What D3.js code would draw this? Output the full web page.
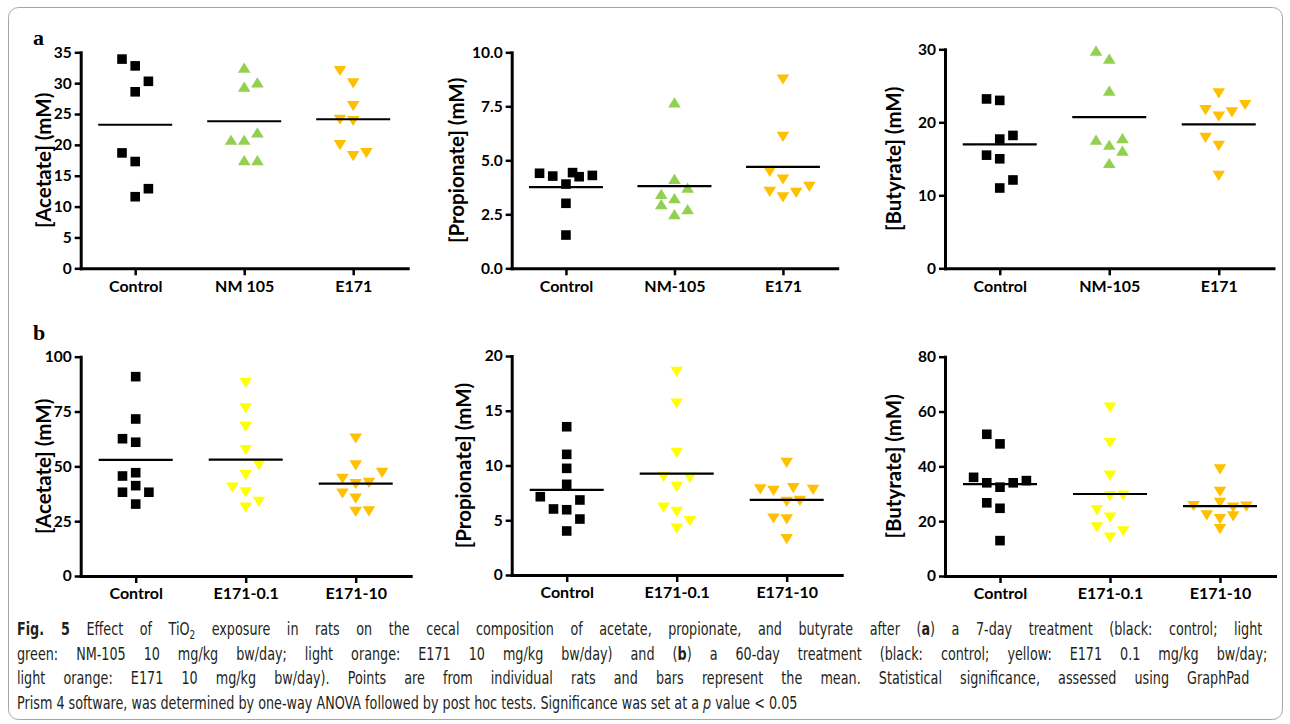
<!DOCTYPE html>
<html>
<head>
<meta charset="utf-8">
<script src="https://d3js.org/d3.v7.min.js"></script>
<style>
  body { margin: 0; background: #fff; }
  svg text { font-family: Lato, "Open Sans", sans-serif; }
  .axis .domain { stroke: #000; stroke-width: 3; stroke-linecap: square; }
  .axis .tick line { stroke: #000; stroke-width: 2.5; }
  .axis .tick text { font-family: Lato, "Open Sans", sans-serif; font-weight: 700; fill: #000; }
  .caption text { font-family: "Liberation Sans Narrow", "DejaVu Sans Condensed", "Roboto", sans-serif; }
</style>
</head>
<body>
<svg id="fig" width="1290" height="724"></svg>
<script>
// categories
var groups7a = ["Control", "NM 105", "E171"];
var groups7 = ["Control", "NM-105", "E171"];
var groups60 = ["Control", "E171-0.1", "E171-10"];

// 7-day treatment (mM), one inner array per group; *Col = side-by-side column of each point
var acetate7 = [[33.9, 32.8, 30.3, 28.6, 18.7, 17.3, 12.9, 11.6],
                [32.5, 29.4, 30.1, 22.0, 20.8, 20.8, 17.5, 17.5],
                [32.0, 30.0, 26.3, 24.1, 23.9, 20.0, 18.2, 18.7]];
var acetate7Col = [[-1, 0, 1, 0, -1, 0, 1, 0], [0, 0, 1, 1, -1, 0, 0, 1], [-1, 0, 0, -1, 0, -1, 0, 1]];

var propionate7 = [[4.40, 4.27, 4.43, 4.24, 4.30, 3.90, 3.01, 1.54],
                   [7.67, 4.13, 3.73, 3.44, 3.24, 2.96, 2.73, 2.50],
                   [8.75, 6.09, 4.47, 4.12, 3.55, 3.50, 3.29, 3.78]];
var propionate7Col = [[-2, -1, 0.5, 1, 2, 0, 0, 0], [0, 0, 1, -1, 0, -1, 1, 0], [0, 0, -1, 0, -1, 1, 0, 2]];

var butyrate7 = [[23.2, 23.0, 17.7, 18.2, 15.5, 15.0, 12.1, 11.0],
                 [29.8, 28.7, 24.3, 17.6, 17.8, 16.9, 16.1, 14.4],
                 [24.0, 21.7, 20.8, 21.4, 22.4, 17.9, 16.8, 12.7]];
var butyrate7Col = [[-1, 0, 0, 1, -1, 0, 1, 0], [-1, 0, 0, -1, 1, 0, 1, 0], [0, -1, 0, 1, 2, -1, 0, 0]];

// 60-day treatment (mM)
var acetate60 = [[90.9, 71.6, 62.6, 61.0, 45.6, 47.1, 41.2, 38.2, 38.2, 32.8],
                 [88.1, 76.5, 68.1, 57.5, 50.6, 46.1, 40.4, 38.2, 33.9, 31.3],
                 [62.8, 50.5, 47.1, 44.4, 42.0, 42.6, 37.7, 35.4, 29.3, 29.6]];
var acetate60Col = [[0, 0, -1, 0, -1, 0, 0, -1, 1, 0], [0, 0, 0, 0, 1, 0, -1, 0, 1, 0], [0, 0, 2, -1, 0, 1, -1, 0, 0, 1]];

var propionate60 = [[13.54, 11.02, 9.74, 8.28, 7.15, 6.85, 6.03, 5.96, 5.11, 4.02],
                    [18.57, 15.68, 11.17, 8.98, 8.89, 8.06, 6.18, 5.78, 4.93, 4.26],
                    [10.26, 7.83, 7.70, 7.95, 7.80, 6.70, 6.79, 5.18, 5.09, 3.29]];
var propionate60Col = [[0, 0, 0, 0, -2, 1, -1, 0, 1, 0], [0, 0, 0, -1, 1, 0, -1, 0, 1, 0], [0, -2, -1, 0.5, 2, 0, 1, -1, 0, 0]];

var butyrate60 = [[51.7, 48.2, 36.0, 34.0, 32.4, 34.0, 34.8, 26.7, 24.7, 12.9],
                  [61.5, 48.6, 36.7, 29.2, 29.4, 24.1, 21.4, 17.8, 16.4, 14.1],
                  [39.0, 30.8, 26.8, 25.6, 25.0, 25.4, 22.2, 21.8, 20.8, 17.2]];
var butyrate60Col = [[-1, 0, -2, -1, 0, 1, 2, -1, 0, 0], [0, 0, 0, 0, 1, -1, 0, -1, 1, 0], [0, 0, 0, -2, 1, 2, -1, 1, 0, 0]];

// tick labels
var acetate7Ticks = [0, 5, 10, 15, 20, 25, 30, 35];
var propionate7Ticks = [0, 2.5, 5, 7.5, 10];
var butyrate7Ticks = [0, 10, 20, 30];
var acetate60Ticks = [0, 25, 50, 75, 100];
var propionate60Ticks = [0, 5, 10, 15, 20];
var butyrate60Ticks = [0, 20, 40, 60, 80];

var colors7 = ["#000000", "#92d050", "#ffc000"];
var colors60 = ["#000000", "#ffff00", "#ffc000"];
var shapes = ["square", "up", "down"];
var shapes60 = ["square", "down", "down"];

var svg = d3.select("#fig");

svg.append("rect")
  .attr("x", 8.5).attr("y", 7.5).attr("width", 1274).attr("height", 712)
  .attr("rx", 10).attr("fill", "none").attr("stroke", "#a6a6a6").attr("stroke-width", 1);

var panels = [
  { left: 80.7, top: 52.3, bottom: 268.3, step: 109, groups: groups7a, values: acetate7, cols: acetate7Col,
    ticks: acetate7Ticks, fmt: d3.format("d"), title: "[Acetate] (mM)", titleOff: 37, colors: colors7, shapes: shapes },
  { left: 511.7, top: 52.3, bottom: 268.3, step: 108.5, groups: groups7, values: propionate7, cols: propionate7Col,
    ticks: propionate7Ticks, fmt: d3.format(".1f"), title: "[Propionate] (mM)", titleOff: 55, colors: colors7, shapes: shapes },
  { left: 945, top: 49.3, bottom: 268.3, step: 109.5, groups: groups7, values: butyrate7, cols: butyrate7Col,
    ticks: butyrate7Ticks, fmt: d3.format("d"), title: "[Butyrate] (mM)", titleOff: 51, colors: colors7, shapes: shapes },
  { left: 80.7, top: 356.7, bottom: 576, step: 110, groups: groups60, values: acetate60, cols: acetate60Col,
    ticks: acetate60Ticks, fmt: d3.format("d"), title: "[Acetate] (mM)", titleOff: 37, colors: colors60, shapes: shapes60 },
  { left: 511.7, top: 356, bottom: 575, step: 110, groups: groups60, values: propionate60, cols: propionate60Col,
    ticks: propionate60Ticks, fmt: d3.format("d"), title: "[Propionate] (mM)", titleOff: 48, colors: colors60, shapes: shapes60 },
  { left: 945, top: 356.7, bottom: 576, step: 110, groups: groups60, values: butyrate60, cols: butyrate60Col,
    ticks: butyrate60Ticks, fmt: d3.format("d"), title: "[Butyrate] (mM)", titleOff: 51, colors: colors60, shapes: shapes60 }
];

function marker(shape) {
  if (shape === "square") return "M-4.8,-4.8H4.8V4.8H-4.8Z";
  if (shape === "up") return "M0,-5.3L6.3,4.9H-6.3Z";
  return "M-6.3,-4.9H6.3L0,5.3Z";
}

var colStep = 13.2;

panels.forEach(function (p) {
  var g = svg.append("g");
  var y = d3.scaleLinear().domain([0, d3.max(p.ticks)]).range([p.bottom, p.top]);
  var x = d3.scalePoint().domain(p.groups).range([p.left, p.left + p.step * 3]).padding(0.5);

  g.append("g").attr("class", "axis")
    .attr("transform", "translate(" + p.left + ",0)")
    .call(d3.axisLeft(y).tickValues(p.ticks).tickFormat(p.fmt).tickSize(6).tickSizeOuter(0).tickPadding(3))
    .selectAll(".tick text").style("font-size", "15.5px");

  g.append("g").attr("class", "axis")
    .attr("transform", "translate(0," + p.bottom + ")")
    .call(d3.axisBottom(x).tickSize(7).tickSizeOuter(0).tickPadding(5))
    .selectAll(".tick text").style("font-size", "16px");

  g.append("text")
    .attr("transform", "translate(" + (p.left - p.titleOff) + "," + ((p.top + p.bottom) / 2) + ") rotate(-90)")
    .attr("text-anchor", "middle").attr("dy", "0.35em")
    .style("font-size", "20.5px").style("font-weight", "700")
    .text(p.title);

  p.groups.forEach(function (grp, i) {
    var pts = p.values[i].map(function (v, j) { return { v: v, c: p.cols[i][j] }; });
    g.selectAll(null).data(pts).enter().append("path")
      .attr("d", marker(p.shapes[i]))
      .attr("transform", function (d) { return "translate(" + (x(grp) + d.c * colStep) + "," + y(d.v) + ")"; })
      .attr("fill", p.colors[i]);
    var m = d3.mean(p.values[i]);
    g.append("line")
      .attr("x1", x(grp) - 37).attr("x2", x(grp) + 37)
      .attr("y1", y(m)).attr("y2", y(m))
      .attr("stroke", "#000").attr("stroke-width", 2.2);
  });
});

svg.append("text").attr("x", 33).attr("y", 45)
  .style("font-family", "'Liberation Serif', serif").style("font-weight", "700").style("font-size", "22px")
  .text("a");
svg.append("text").attr("x", 33).attr("y", 340)
  .style("font-family", "'Liberation Serif', serif").style("font-weight", "700").style("font-size", "22px")
  .text("b");

// caption, justified: the last line sets the glyph squeeze, the others get extra word spacing
var captionLines = [
  { y: 635, w: 1246, parts: [["Fig. 5", "b"], [" Effect of TiO", ""], ["2", "sub"], [" exposure in rats on the cecal composition of acetate, propionate, and butyrate after (", ""], ["a", "b"], [") a 7-day treatment (black: control; light", ""]] },
  { y: 659.5, w: 1251, parts: [["green: NM-105 10 mg/kg bw/day; light orange: E171 10 mg/kg bw/day) and (", ""], ["b", "b"], [") a 60-day treatment (black: control; yellow: E171 0.1 mg/kg bw/day;", ""]] },
  { y: 684, w: 1233, parts: [["light orange: E171 10 mg/kg bw/day). Points are from individual rats and bars represent the mean. Statistical significance, assessed using GraphPad", ""]] },
  { y: 708.5, w: 781, parts: [["Prism 4 software, was determined by one-way ANOVA followed by post hoc tests. Significance was set at a ", ""], ["p", "i"], [" value < 0.05", ""]] }
];

var cap = svg.append("g").attr("class", "caption");
var capTexts = captionLines.map(function (line) {
  var t = cap.append("text").attr("x", 0).attr("y", 0)
    .style("font-size", "18px").style("fill", "#231f20");
  var shifted = false;
  line.parts.forEach(function (pt) {
    var s = t.append("tspan").text(pt[0]);
    if (pt[1] === "b") s.style("font-weight", "700");
    if (pt[1] === "i") s.style("font-style", "italic");
    if (pt[1] === "sub") { s.attr("dy", 4).style("font-size", "12.5px"); shifted = true; }
    else if (shifted) { s.attr("dy", -4); shifted = false; }
  });
  return t;
});
var last = captionLines.length - 1;
var squeeze = captionLines[last].w / capTexts[last].node().getComputedTextLength();
captionLines.forEach(function (line, i) {
  var t = capTexts[i];
  if (i < last) {
    var natural = t.node().getComputedTextLength();
    var spaces = line.parts.map(function (pt) { return pt[0]; }).join("").split(" ").length - 1;
    t.style("word-spacing", ((line.w / squeeze - natural) / spaces) + "px");
  }
  t.attr("transform", "translate(17," + line.y + ") scale(" + squeeze + ",1)");
});
</script>
</body>
</html>
